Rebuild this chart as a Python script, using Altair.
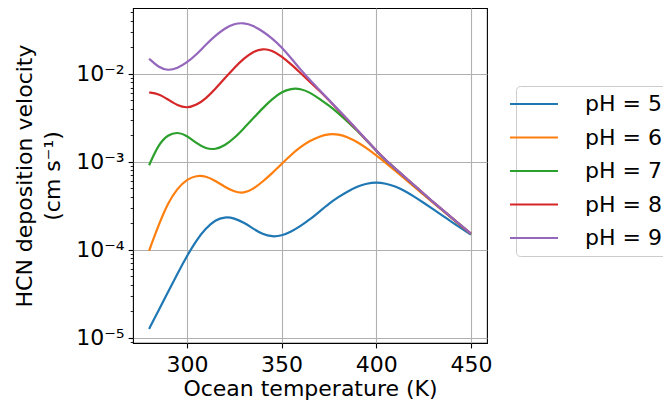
import altair as alt
import pandas as pd

temperature = [280, 285, 290, 295, 300, 305, 310, 315, 320, 325, 330, 335,
               340, 345, 350, 355, 360, 365, 370, 375, 380, 385, 390, 395,
               400, 405, 410, 415, 420, 425, 430, 435, 440, 445, 450]

# log10 of HCN deposition velocity (cm s^-1)
log_v_ph5 = [-4.90, -4.69, -4.48, -4.27, -4.07, -3.89, -3.755, -3.66, -3.625, -3.64, -3.69, -3.76,
             -3.825, -3.852, -3.84, -3.795, -3.73, -3.655, -3.565, -3.475, -3.40, -3.335, -3.28, -3.245,
             -3.233, -3.245, -3.278, -3.33, -3.395, -3.465, -3.537, -3.61, -3.685, -3.757, -3.827]
log_v_ph6 = [-4.011, -3.72, -3.465, -3.30, -3.197, -3.155, -3.162, -3.215, -3.285, -3.34, -3.358, -3.31,
             -3.225, -3.13, -3.025, -2.92, -2.83, -2.76, -2.71, -2.683, -2.685, -2.72, -2.775, -2.845,
             -2.925, -3.01, -3.10, -3.19, -3.283, -3.373, -3.464, -3.553, -3.642, -3.73, -3.816]
log_v_ph7 = [-3.038, -2.80, -2.69, -2.66, -2.70, -2.79, -2.85, -2.86, -2.815, -2.73, -2.62, -2.505,
             -2.39, -2.285, -2.205, -2.165, -2.167, -2.21, -2.283, -2.36, -2.446, -2.545, -2.649, -2.758,
             -2.874, -2.982, -3.077, -3.172, -3.267, -3.362, -3.457, -3.547, -3.639, -3.729, -3.818]
log_v_ph8 = [-2.211, -2.225, -2.29, -2.36, -2.389, -2.355, -2.28, -2.17, -2.05, -1.93, -1.825, -1.745,
             -1.711, -1.73, -1.80, -1.89, -1.99, -2.09, -2.19, -2.30, -2.412, -2.525, -2.639, -2.756,
             -2.873, -2.981, -3.076, -3.171, -3.266, -3.361, -3.456, -3.546, -3.638, -3.728, -3.817]
log_v_ph9 = [-1.827, -1.925, -1.963, -1.935, -1.871, -1.78, -1.665, -1.565, -1.48, -1.428, -1.418, -1.45,
             -1.515, -1.595, -1.695, -1.82, -1.95, -2.07, -2.182, -2.295, -2.408, -2.522, -2.636, -2.754,
             -2.871, -2.98, -3.075, -3.17, -3.265, -3.36, -3.455, -3.545, -3.637, -3.727, -3.816]

series_labels = ["pH = 5", "pH = 6", "pH = 7", "pH = 8", "pH = 9"]
series_colors = ["#1f77b4", "#ff7f0e", "#2ca02c", "#d62728", "#9467bd"]

x_ticks = [300, 350, 400, 450]
x_domain = [271.5, 458.5]
y_ticks = [1e-5, 1e-4, 1e-3, 1e-2]
y_tick_labels = ["10⁻⁵", "10⁻⁴", "10⁻³", "10⁻²"]
y_domain = [10 ** -5.06, 10 ** -1.25]
y_minor = [k * 10.0 ** e for e in range(-6, -1) for k in range(2, 10)]
y_minor = [v for v in y_minor if y_domain[0] <= v <= y_domain[1]]
y_values = sorted(y_ticks + y_minor)

rows = []
for lab, logs in zip(series_labels, [log_v_ph5, log_v_ph6, log_v_ph7, log_v_ph8, log_v_ph9]):
    for t, lv in zip(temperature, logs):
        rows.append({"T": t, "v": 10 ** lv, "series": lab})
df = pd.DataFrame(rows)

is_decade = "abs(log(datum.value)/LN10 - round(log(datum.value)/LN10)) < 0.01"
label_array = "[" + ",".join("'" + s + "'" for s in y_tick_labels) + "]"
label_expr = f"({is_decade}) ? {label_array}[round(log(datum.value)/LN10)+5] : ''"

chart = alt.Chart(df).mark_line(strokeWidth=2.2, interpolate="basis", clip=True).encode(
    x=alt.X("T:Q",
            scale=alt.Scale(domain=x_domain, nice=False, zero=False),
            axis=alt.Axis(values=x_ticks, title="Ocean temperature (K)", format="d",
                          tickSize=4.9, tickWidth=1.1, labelPadding=7, titlePadding=3,
                          labelFlush=False)),
    y=alt.Y("v:Q",
            scale=alt.Scale(type="log", domain=y_domain, nice=False),
            axis=alt.Axis(values=y_values, labelExpr=label_expr,
                          title=["HCN deposition velocity", "(cm s⁻¹)"],
                          titleLineHeight=28, titlePadding=11,
                          labelPadding=4, labelOverlap=False, labelFlush=False,
                          tickSize={"condition": {"test": is_decade, "value": 4.9}, "value": 2.8},
                          tickWidth={"condition": {"test": is_decade, "value": 1.1}, "value": 0.85},
                          gridOpacity={"condition": {"test": is_decade, "value": 1}, "value": 0})),
    color=alt.Color("series:N",
                    scale=alt.Scale(domain=series_labels, range=series_colors),
                    legend=alt.Legend(title=None, orient="none", legendX=383, legendY=78,
                                      labelFontSize=22, labelFont="DejaVu Sans", labelColor="black",
                                      symbolType="M-2.667,0H2.667", symbolSize=324,
                                      symbolStrokeWidth=2.2, labelOffset=40, rowPadding=11.5,
                                      padding=7, strokeColor="#cccccc", cornerRadius=4,
                                      fillColor="white")),
).properties(
    width=354,
    height=335,
    autosize=alt.AutoSizeParams(type="none"),
    padding={"left": 125, "top": 0, "right": 176, "bottom": 58},
).configure(
    font="DejaVu Sans",
).configure_view(
    stroke="black", strokeWidth=1.1,
).configure_axis(
    labelFontSize=22, titleFontSize=22, labelColor="black", titleColor="black",
    titleFontWeight="normal", tickColor="black", domain=False,
    gridColor="#b0b0b0", gridWidth=1.1, labelFont="DejaVu Sans", titleFont="DejaVu Sans",
)

chart.save("out.html", embed_options={"renderer": "svg", "actions": False})
